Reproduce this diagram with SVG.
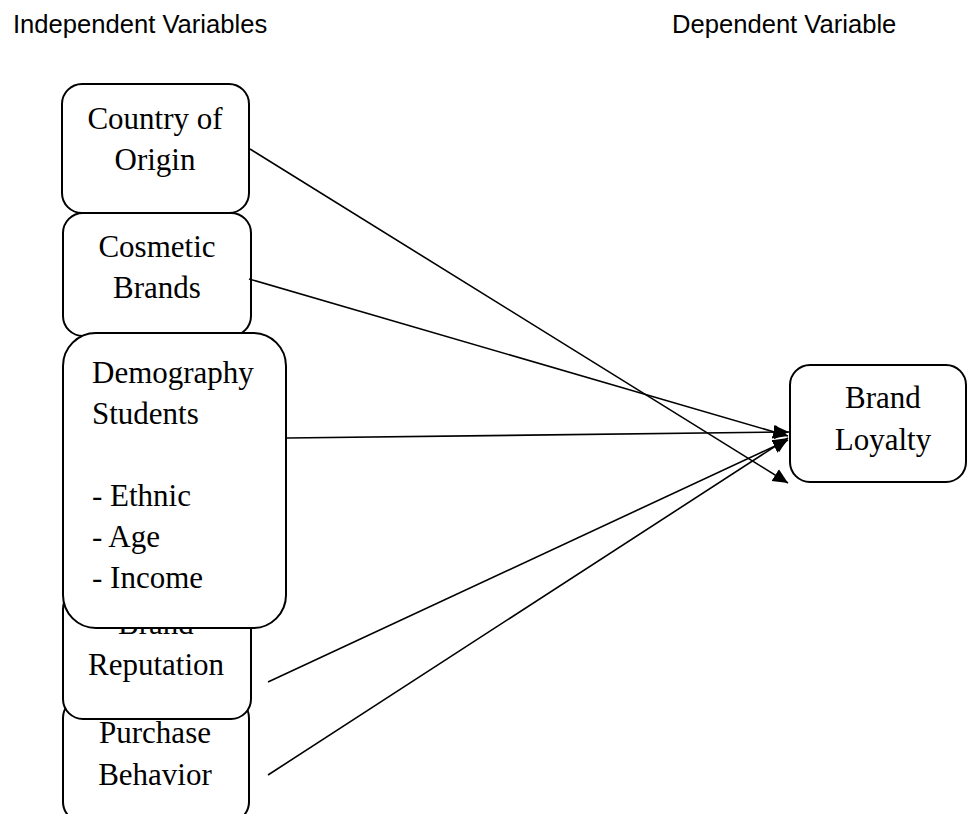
<svg xmlns="http://www.w3.org/2000/svg" width="968" height="814" viewBox="0 0 968 814">
<style>
.box{fill:#fff;stroke:#000;stroke-width:2}
.t{font-family:"Liberation Serif","Times New Roman",serif;font-size:31px;fill:#000}
.c{text-anchor:middle}
.h{font-family:"Liberation Sans",Arial,sans-serif;font-size:25.6px;fill:#000}
.ln{stroke:#000;stroke-width:1.6;fill:none;marker-end:url(#ah)}
</style>
<defs>
<marker id="ah" markerUnits="userSpaceOnUse" markerWidth="17" markerHeight="15" refX="15" refY="7" orient="auto">
<path d="M0,0 L15,7 L0,14 z" fill="#000"/>
</marker>
</defs>
<rect width="968" height="814" fill="#fff"/>
<text class="h" x="13" y="33">Independent Variables</text>
<text class="h" x="672" y="33">Dependent Variable</text>
<g id="country">
<rect class="box" x="62" y="84" width="187" height="129" rx="20"/>
<text class="t c" x="155" y="129">Country of</text>
<text class="t c" x="155" y="170">Origin</text>
</g>
<g id="cosmetic">
<rect class="box" x="63" y="213" width="188" height="123" rx="20"/>
<text class="t c" x="157" y="257">Cosmetic</text>
<text class="t c" x="157" y="298">Brands</text>
</g>
<g id="purchase">
<rect class="box" x="63" y="698" width="186" height="124" rx="20"/>
<text class="t c" x="155" y="743">Purchase</text>
<text class="t c" x="155" y="785">Behavior</text>
</g>
<g id="reputation">
<rect class="box" x="63" y="589" width="188" height="130" rx="20"/>
<text class="t c" x="156" y="634">Brand</text>
<text class="t c" x="156" y="675">Reputation</text>
</g>
<g id="demography">
<rect class="box" x="63" y="333" width="223" height="295" rx="33"/>
<text class="t" x="92" y="383">Demography</text>
<text class="t" x="92" y="424">Students</text>
<text class="t" x="92" y="506">- Ethnic</text>
<text class="t" x="92" y="547">- Age</text>
<text class="t" x="92" y="588">- Income</text>
</g>
<g id="loyalty">
<rect class="box" x="790" y="365" width="176" height="117" rx="20"/>
<text class="t c" x="883" y="408">Brand</text>
<text class="t c" x="883" y="450">Loyalty</text>
</g>
<g id="connectors">
<line class="ln" x1="250" y1="149" x2="788" y2="483"/>
<line class="ln" x1="249" y1="279" x2="788" y2="436"/>
<line class="ln" x1="287" y1="438" x2="789" y2="432"/>
<line class="ln" x1="268" y1="682" x2="788" y2="440"/>
<line class="ln" x1="268" y1="775" x2="788" y2="438"/>
</g>
</svg>
